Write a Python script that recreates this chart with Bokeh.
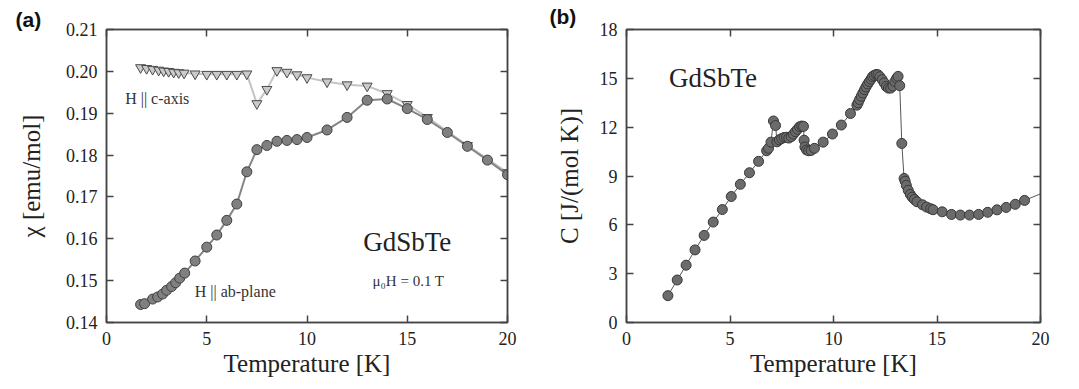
from bokeh.plotting import figure
from bokeh.layouts import row
from bokeh.models import LinearAxis, FixedTicker, Label, Range1d, NumeralTickFormatter
from bokeh.embed import file_html
from bokeh.resources import INLINE

# ---- panel (a): susceptibility ----
T_c = [1.7, 2.0, 2.3, 2.6, 2.85, 3.1, 3.35, 3.6, 3.87, 4.42, 5.0, 5.5, 6.0, 6.5, 7.0,
       7.5, 8.0, 8.5, 9.0, 9.5, 10.0, 11.0, 12.0, 13.0, 14.0, 15.0, 16.0, 18.0, 20.0]
chi_c = [0.2009, 0.2007, 0.2005, 0.2003, 0.2001, 0.2000, 0.1998, 0.1997, 0.1996, 0.1994,
         0.1993, 0.1993, 0.1993, 0.1993, 0.1994, 0.1923, 0.1957, 0.2002, 0.1998, 0.1992,
         0.1985, 0.1975, 0.1968, 0.1965, 0.1947, 0.1921, 0.1890, 0.1823, 0.1758]
T_ab = [1.7, 1.9, 2.3, 2.55, 2.8, 3.0, 3.25, 3.45, 3.65, 3.9, 4.42, 5.0, 5.5, 6.0, 6.5,
        7.0, 7.5, 8.0, 8.5, 9.0, 9.5, 10.0, 11.0, 12.0, 13.0, 14.0, 15.0, 16.0, 17.0,
        18.0, 19.0, 20.0]
chi_ab = [0.1443, 0.1445, 0.1456, 0.1461, 0.1468, 0.1477, 0.1486, 0.1495, 0.1506, 0.1518,
          0.1547, 0.1580, 0.1609, 0.1644, 0.1683, 0.1760, 0.1813, 0.1823, 0.1833, 0.1835,
          0.1837, 0.1842, 0.1860, 0.1890, 0.1931, 0.1934, 0.1911, 0.1885, 0.1854, 0.1821,
          0.1788, 0.1753]
chi_ticks = [0.14, 0.15, 0.16, 0.17, 0.18, 0.19, 0.20, 0.21]
T_ticks = [0, 5, 10, 15, 20]

# ---- panel (b): specific heat ----
T_C = [2.0, 2.45, 2.88, 3.31, 3.75, 4.19, 4.63, 5.06, 5.5, 5.94, 6.38, 6.77, 6.86, 6.98,
       7.1, 7.2, 7.27, 7.38, 7.5, 7.62, 7.73, 7.84, 7.96, 8.06, 8.16, 8.26, 8.36, 8.46,
       8.55, 8.58, 8.62, 8.7, 8.8, 8.92, 9.08, 9.5, 9.95, 10.38, 10.82, 11.13, 11.19,
       11.26, 11.34, 11.42, 11.5, 11.57, 11.65, 11.73, 11.81, 11.88, 11.96, 12.06, 12.15,
       12.24, 12.35, 12.45, 12.55, 12.65, 12.76, 12.87, 12.96, 13.05, 13.12, 13.2, 13.3,
       13.41, 13.46, 13.52, 13.61, 13.71, 13.8, 13.91, 14.03, 14.3, 14.5, 14.69, 14.81,
       15.25, 15.7, 16.13, 16.57, 17.01, 17.45, 17.9, 18.34, 18.78, 19.23, 20.3]
C_val = [1.65, 2.61, 3.52, 4.46, 5.35, 6.17, 6.94, 7.74, 8.49, 9.2, 9.9, 10.55, 10.7, 11.08,
         12.38, 12.1, 11.1, 11.22, 11.3, 11.37, 11.38, 11.33, 11.42, 11.57, 11.72, 11.87,
         12.02, 12.07, 12.05, 11.2, 10.78, 10.6, 10.55, 10.57, 10.7, 11.08, 11.58, 12.13,
         12.84, 13.35, 13.5, 13.7, 13.9, 14.1, 14.3, 14.47, 14.65, 14.8, 14.95, 15.1, 15.18,
         15.24, 15.22, 15.1, 14.92, 14.72, 14.5, 14.4, 14.4, 14.53, 14.8, 15.0, 15.12, 14.55,
         11.0, 8.85, 8.68, 8.42, 8.12, 7.87, 7.7, 7.56, 7.42, 7.23, 7.09, 6.99, 6.93, 6.8,
         6.64, 6.6, 6.6, 6.64, 6.77, 6.92, 7.07, 7.26, 7.5, 8.06]
C_ticks = [0, 3, 6, 9, 12, 15, 18]

SERIF = "Liberation Serif"
AXC = "#444444"


def style_axis(ax, labels=True, label_standoff=6):
    ax.major_tick_in = 7
    ax.major_tick_out = 0
    ax.minor_tick_line_color = None
    ax.axis_line_color = AXC
    ax.axis_line_width = 1.5
    ax.major_tick_line_color = AXC
    ax.major_tick_line_width = 1.5
    ax.major_label_text_font = SERIF
    ax.major_label_text_color = "#222222"
    ax.axis_label_text_font = SERIF
    ax.axis_label_text_font_size = "25px"
    ax.axis_label_text_font_style = "normal"
    ax.axis_label_text_color = "#222222"
    ax.axis_label_standoff = label_standoff
    if labels:
        ax.major_label_text_font_size = "18px"
        ax.major_label_standoff = 9
    else:
        ax.major_label_overrides = {t: "" for t in ax.ticker.ticks}
        ax.major_label_text_font_size = "1px"
        ax.major_label_standoff = 0


def make_fig(width, xr, yr, borders, tag, tag_offset):
    p = figure(width=width, height=389, x_range=Range1d(*xr), y_range=Range1d(*yr),
               output_backend="svg", toolbar_location=None,
               min_border_left=borders[0], min_border_right=borders[1],
               min_border_top=0, min_border_bottom=borders[3])
    p.xgrid.visible = False
    p.ygrid.visible = False
    p.outline_line_color = AXC
    p.outline_line_width = 1.5
    p.background_fill_color = "white"
    p.border_fill_color = "white"
    p.title.text = tag
    p.title.align = "left"
    p.title.offset = tag_offset
    p.title.text_font = "Liberation Sans"
    p.title.text_font_style = "bold"
    p.title.text_font_size = "21px"
    p.title.text_color = "#111111"
    p.title.standoff = borders[2]
    return p


def add_mirror_axes(p, xticks, yticks, ystandoff):
    style_axis(p.below[0], True, 2)
    style_axis(p.left[0], True, ystandoff)
    r = LinearAxis(ticker=FixedTicker(ticks=yticks))
    t = LinearAxis(ticker=FixedTicker(ticks=xticks))
    style_axis(r, False)
    style_axis(t, False)
    p.add_layout(r, "right")
    p.add_layout(t, "above")


# panel a
pa = make_fig(540, (0, 20), (0.14, 0.21), (106, 33, -2, 67), "(a)", -91)
pa.below[0].ticker = FixedTicker(ticks=T_ticks)
pa.left[0].ticker = FixedTicker(ticks=chi_ticks)
pa.left[0].formatter = NumeralTickFormatter(format="0.00")
pa.below[0].axis_label = "Temperature [K]"
pa.left[0].axis_label = "χ [emu/mol]"
add_mirror_axes(pa, T_ticks, chi_ticks, 18)

pa.line(T_c, chi_c, line_color="#c4c4c4", line_width=2)
pa.line(T_ab, chi_ab, line_color="#858585", line_width=2)
pa.scatter(T_c, chi_c, marker="inverted_triangle", size=10, fill_color="#cacaca",
           line_color="#4a4a4a", line_width=1)
pa.scatter(T_ab, chi_ab, marker="circle", size=10, fill_color="#808080",
           line_color="#404040", line_width=1)

pa.add_layout(Label(x=0.93, y=0.1934, text="H || c-axis", text_font=SERIF,
                    text_font_size="16px", text_color="#333333", text_baseline="middle"))
pa.add_layout(Label(x=4.4, y=0.1473, text="H || ab-plane", text_font=SERIF,
                    text_font_size="16px", text_color="#333333", text_baseline="middle"))
pa.add_layout(Label(x=12.8, y=0.1593, text="GdSbTe", text_font=SERIF,
                    text_font_size="27px", text_color="#222222", text_baseline="middle"))
pa.add_layout(Label(x=13.27, y=0.1500, text="μ₀H = 0.1 T", text_font=SERIF,
                    text_font_size="15px", text_color="#333333", text_baseline="middle"))

# panel b
pb = make_fig(539, (0, 20), (0, 18), (86, 39, 4, 64), "(b)", -77)
pb.below[0].ticker = FixedTicker(ticks=T_ticks)
pb.left[0].ticker = FixedTicker(ticks=C_ticks)
pb.below[0].axis_label = "Temperature [K]"
pb.left[0].axis_label = "C [J/(mol K)]"
add_mirror_axes(pb, T_ticks, C_ticks, 14)

pb.line(T_C, C_val, line_color="#555555", line_width=1)
pb.scatter(T_C, C_val, marker="circle", size=10, fill_color="#6b6b6b",
           line_color="#383838", line_width=1)
pb.add_layout(Label(x=2.05, y=15.0, text="GdSbTe", text_font=SERIF,
                    text_font_size="27px", text_color="#222222", text_baseline="middle"))

layout = row(pa, pb)
open("out.html", "w").write(file_html(layout, INLINE))
